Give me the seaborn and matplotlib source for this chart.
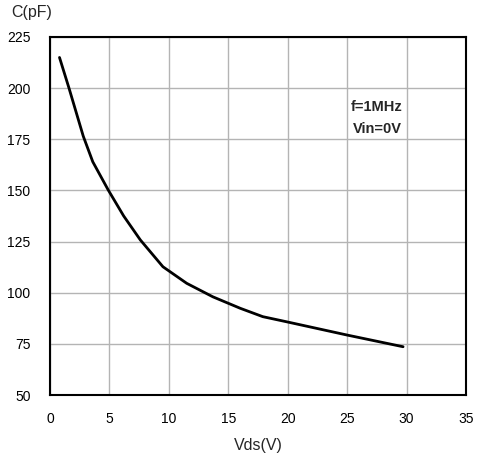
import matplotlib
matplotlib.use("Agg")
import matplotlib.pyplot as plt
import seaborn as sns
import pandas as pd

# values
vds = [0.8, 1.6, 2.8, 3.6, 4.9, 6.2, 7.6, 9.5, 11.5, 13.7, 16.0, 17.9, 19.9, 25.0, 29.7]
cap = [215.0, 200.0, 176.5, 164.0, 150.2, 137.5, 125.8, 112.7, 104.6, 98.0, 92.4, 88.3, 85.8, 79.3, 73.6]

x_ticks = [0, 5, 10, 15, 20, 25, 30, 35]
y_ticks = [50, 75, 100, 125, 150, 175, 200, 225]

sns.set_style("white")
plt.rcParams["font.family"] = ["Liberation Sans", "DejaVu Sans"]

df = pd.DataFrame({"Vds": vds, "C": cap})

fig = plt.figure(figsize=(4.82, 4.59), dpi=100)
ax = fig.add_axes([0.1037, 0.1394, 0.8633, 0.7800])

sns.lineplot(data=df, x="Vds", y="C", color="black", linewidth=2.0, ax=ax)

ax.set_xlim(0, 35)
ax.set_ylim(50, 225)
ax.set_xticks(x_ticks)
ax.set_yticks(y_ticks)
ax.grid(True, color="#b4b4b4", linewidth=1.0)
ax.tick_params(length=0, labelsize=10, colors="black")
ax.tick_params(axis="x", pad=12)
ax.tick_params(axis="y", pad=14)
for s in ax.spines.values():
    s.set_color("black")
    s.set_linewidth(1.5)

ax.set_xlabel("Vds(V)", fontsize=11.5, labelpad=9)
ax.set_ylabel("")
fig.text(32 / 482, 1 - 13 / 459, "C(pF)", fontsize=11.5, ha="center", va="center")

ax.text(27.5, 185.5, "f=1MHz\nVin=0V", fontsize=10.5, fontweight="bold",
        ha="center", va="center", linespacing=1.75)

fig.savefig("out.png", dpi=100)
